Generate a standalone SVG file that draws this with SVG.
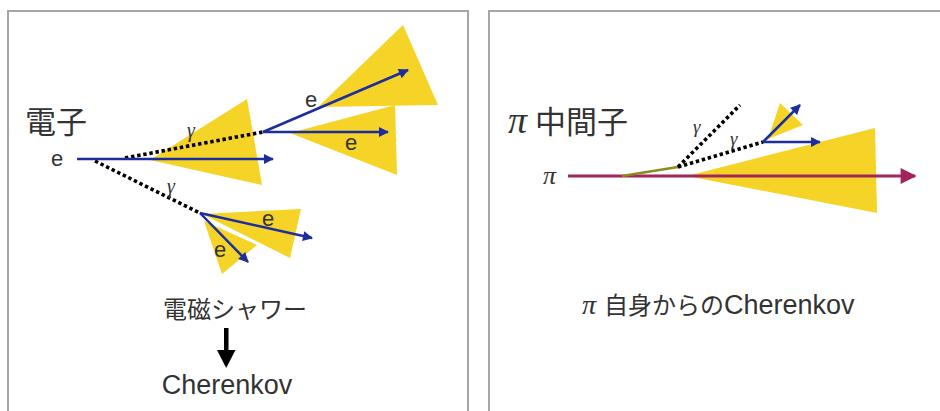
<svg xmlns="http://www.w3.org/2000/svg" width="940" height="411" viewBox="0 0 940 411">
  <style>
    .frame { fill: #ffffff; stroke: #a6a6a6; stroke-width: 2; }
    .cone { fill: #f5d327; }
    .trk { stroke: #1c2e9e; stroke-width: 2.5; fill: none; }
    .gam { stroke: #000000; stroke-width: 3.6; stroke-dasharray: 3.4 2.8; fill: none; }
    .lbl { font-family: "Liberation Sans", "Noto Sans CJK JP", sans-serif; fill: #333333; }
    .greek { font-family: "Liberation Serif", "DejaVu Serif", serif; font-style: italic; fill: #333333; }
  </style>
  <defs>
    <marker id="ah-blue" viewBox="0 0 10 10" refX="9" refY="5" markerWidth="13" markerHeight="10" markerUnits="userSpaceOnUse" orient="auto">
      <path d="M0,0 L10,5 L0,10 z" fill="#1c2e9e"/>
    </marker>
    <marker id="ah-pion" viewBox="0 0 10 10" refX="9" refY="5" markerWidth="17" markerHeight="16" markerUnits="userSpaceOnUse" orient="auto">
      <path d="M0,0 L10,5 L0,10 z" fill="#a3255c"/>
    </marker>
  </defs>

  <!-- panel frames -->
  <rect class="frame" x="8" y="11" width="460" height="420"/>
  <rect class="frame" x="489" y="11" width="470" height="420"/>

  <!-- electron panel: cones -->
  <g id="electron-cones">
    <polygon class="cone" points="150,160 247,99 262,185"/>
    <polygon class="cone" points="403,25 438,105 318,107"/>
    <polygon class="cone" points="290,133 395,105 397,175"/>
    <polygon class="cone" points="202,214 301,209 290,258"/>
    <polygon class="cone" points="204,221 257,245 222,274"/>
  </g>

  <!-- pion panel: cones -->
  <g id="pion-cones">
    <polygon class="cone" points="687,176 875,128 877,213"/>
    <polygon class="cone" points="780,103 803,125 768,139"/>
  </g>

  <g id="connectors">
    <!-- electron shower -->
    <line class="gam" x1="125" y1="158" x2="263" y2="132"/>
    <line class="gam" x1="95" y1="161" x2="200" y2="213"/>
    <line class="trk" x1="77" y1="159" x2="273" y2="159" marker-end="url(#ah-blue)"/>
    <line class="trk" x1="263" y1="132" x2="408" y2="70" marker-end="url(#ah-blue)"/>
    <line class="trk" x1="263" y1="132" x2="388" y2="132" marker-end="url(#ah-blue)"/>
    <line class="trk" x1="200" y1="213" x2="312" y2="238" marker-end="url(#ah-blue)"/>
    <line class="trk" x1="200" y1="213" x2="248" y2="262" marker-end="url(#ah-blue)"/>
    <!-- downward arrow -->
    <rect x="224" y="328" width="4.5" height="24" fill="#000000"/>
    <polygon points="217,350 235.5,350 226.2,368" fill="#000000"/>

    <!-- pion track -->
    <line x1="568" y1="176" x2="915" y2="176" stroke="#a3255c" stroke-width="3" marker-end="url(#ah-pion)"/>
    <line x1="622" y1="176" x2="678" y2="167" stroke="#8d8a1e" stroke-width="2.5"/>
    <line class="gam" x1="678" y1="167" x2="740" y2="105"/>
    <line class="gam" x1="678" y1="167" x2="763" y2="142"/>
    <line class="trk" x1="763" y1="142" x2="800" y2="105" marker-end="url(#ah-blue)"/>
    <line class="trk" x1="763" y1="142" x2="820" y2="142" marker-end="url(#ah-blue)"/>
  </g>

  <!-- electron panel labels -->
  <g id="electron-labels">
    <text class="lbl" x="25" y="133" font-size="31">電子</text>
    <text class="lbl" x="51" y="166" font-size="22">e</text>
    <text class="greek" x="187" y="137" font-size="20">γ</text>
    <text class="greek" x="167" y="193" font-size="20">γ</text>
    <text class="lbl" x="305" y="107" font-size="22">e</text>
    <text class="lbl" x="345" y="150" font-size="22">e</text>
    <text class="lbl" x="262" y="226" font-size="22">e</text>
    <text class="lbl" x="214" y="257" font-size="22">e</text>
    <text class="lbl" x="235" y="318" font-size="24" text-anchor="middle">電磁シャワー</text>
    <text class="lbl" x="227" y="394" font-size="27" text-anchor="middle">Cherenkov</text>
  </g>

  <!-- pion panel labels -->
  <g id="pion-labels">
    <text x="508" y="133"><tspan class="greek" font-size="38">π</tspan><tspan class="lbl" dx="8" font-size="31">中間子</tspan></text>
    <text class="greek" x="543" y="184" font-size="26">π</text>
    <text class="greek" x="693" y="133" font-size="19">γ</text>
    <text class="greek" x="730" y="145" font-size="19">γ</text>
    <text x="582" y="314"><tspan class="greek" font-size="28">π</tspan><tspan class="lbl" dx="8" font-size="24">自身からの</tspan><tspan class="lbl" font-size="27">Cherenkov</tspan></text>
  </g>
</svg>
